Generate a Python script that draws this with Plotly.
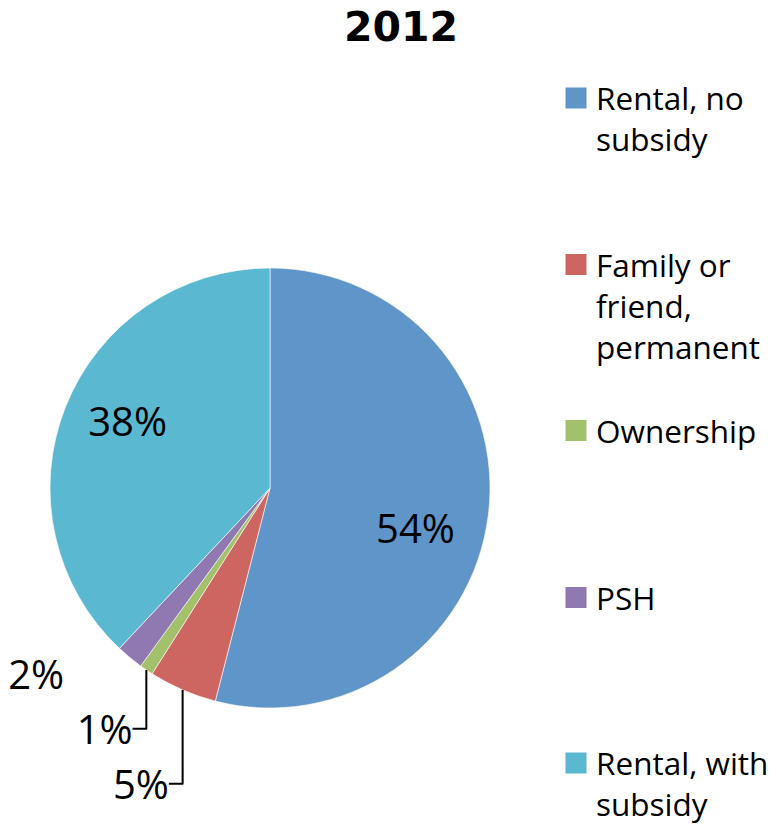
import plotly.graph_objects as go

categories = ["Rental, no subsidy", "Family or friend, permanent", "Ownership", "PSH", "Rental, with subsidy"]
legend_labels = ["Rental, no<br>subsidy", "Family or<br>friend,<br>permanent", "Ownership", "PSH", "Rental, with<br>subsidy"]
values = [54, 5, 1, 2, 38]
colors = ["#5F95C9", "#CD6560", "#A3C16A", "#9078B0", "#5AB8D0"]
title_text = "2012"

# label styling (placement tweaks, not data)
text_positions = ["inside", "outside", "outside", "outside", "inside"]
pad_left = [7, 0, 0, 0, 0]     # non-breaking spaces before the label
pad_right = [0, 0, 0, 5, 7]    # non-breaking spaces after the label
line_above = [1, 0, 0, 0, 0]
line_below = [0, 0, 0, 0, 1]

W, H = 776, 829
OFF = 8  # page body margin in the browser
cx, cy, r = 270 - OFF, 488 - OFF, 220
legend_symbol_y = [98, 264.5, 430.5, 597.5, 763]  # screen px centres of legend squares

NB = "\u00a0"
templates = []
for i in range(len(values)):
    t = NB * pad_left[i] + "%{value}%" + NB * pad_right[i]
    t = (NB + "<br>") * line_above[i] + t + ("<br>" + NB) * line_below[i]
    templates.append(t)

fig = go.Figure()
fig.add_trace(go.Pie(
    labels=categories,
    values=values,
    sort=False,
    direction="clockwise",
    rotation=0,
    marker=dict(colors=colors, line=dict(color="white", width=0.6)),
    texttemplate=templates,
    textposition=text_positions,
    textfont=dict(family="Open Sans", size=40, color="black"),
    insidetextorientation="horizontal",
    hoverinfo="label+percent",
    showlegend=False,
    domain=dict(x=[(cx - r) / W, (cx + r) / W], y=[1 - (cy + r) / H, 1 - (cy - r) / H]),
))

legend_layout = {}
for i, (lab, col) in enumerate(zip(legend_labels, colors)):
    key = "legend" if i == 0 else f"legend{i + 1}"
    fig.add_trace(go.Scatter(
        x=[None], y=[None], mode="markers", name=lab,
        marker=dict(symbol="square", size=16, color=col, line=dict(color=col, width=5)),
        legend=key, showlegend=True, hoverinfo="skip",
    ))
    legend_layout[key] = dict(
        x=548 / W, xanchor="left", xref="container",
        y=1 - (legend_symbol_y[i] - OFF - 27) / H, yanchor="top", yref="container", valign="top",
        font=dict(family="Open Sans", size=31.5, color="black"),
        itemclick=False, itemdoubleclick=False, bgcolor="rgba(0,0,0,0)",
    )

fig.update_layout(
    width=W, height=H,
    margin=dict(l=0, r=0, t=0, b=0, autoexpand=False),
    paper_bgcolor="white", plot_bgcolor="rgba(0,0,0,0)",
    xaxis=dict(visible=False), yaxis=dict(visible=False),
    title=dict(text="<b>" + title_text + "</b>", x=(401 - OFF) / W, xanchor="center",
               y=1 - (27 - OFF) / H, yanchor="middle",
               font=dict(family="DejaVu Sans", size=41, color="black")),
    showlegend=True,
    **legend_layout,
)

fig.write_html("out.html")
